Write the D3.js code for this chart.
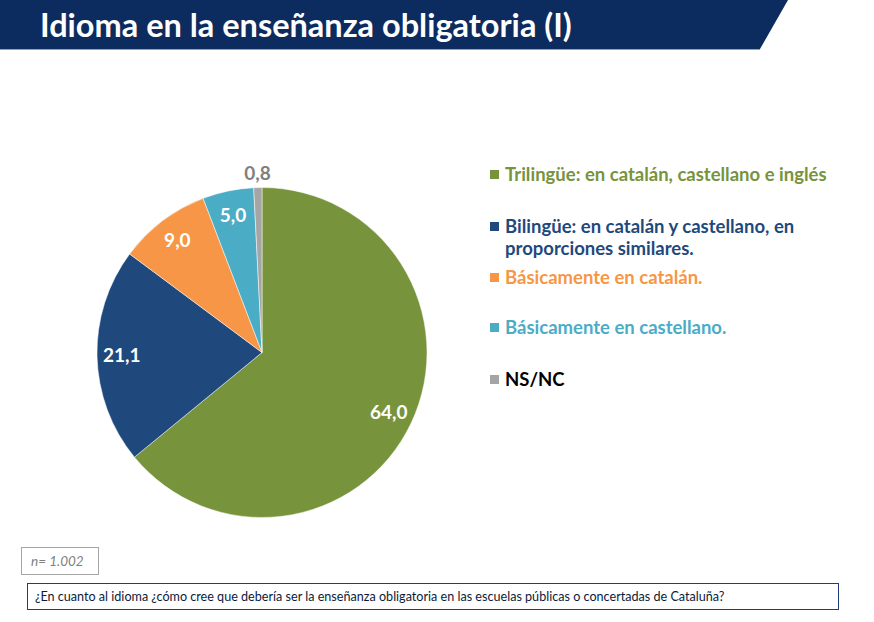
<!DOCTYPE html>
<html><head><meta charset="utf-8">
<script src="https://cdn.jsdelivr.net/npm/d3@7"></script>
<style>
body{margin:0;background:#fff;}
svg{display:block;font-family:Lato, "Open Sans", sans-serif;}
</style></head>
<body>
<svg id="c" width="874" height="622"></svg>
<script>
const categories = [
  "Trilingüe: en catalán, castellano e inglés",
  "Bilingüe: en catalán y castellano, en|proporciones similares.",
  "Básicamente en catalán.",
  "Básicamente en castellano.",
  "NS/NC"
];
const values = [64.0, 21.1, 9.0, 5.0, 0.8];
const labels = ["64,0", "21,1", "9,0", "5,0", "0,8"];
const colors = ["#77933c", "#1f497d", "#f79646", "#4bacc6", "#a5a5a5"];
const legendTextColors = ["#77933c", "#1f497d", "#f79646", "#4bacc6", "#000000"];
const title = "Idioma en la enseñanza obligatoria (I)";
const sampleNote = "n= 1.002";
const question = "¿En cuanto al idioma ¿cómo cree que debería ser la enseñanza obligatoria en las escuelas públicas o concertadas de Cataluña?";

const svg = d3.select("#c");

// Title banner
svg.append("path").attr("d","M0,0 L788,0 L760,49 L0,49 Z").attr("fill","#0c2c5f");
svg.append("line").attr("x1",0).attr("x2",760).attr("y1",49.5).attr("y2",49.5).attr("stroke","#8fa3c0").attr("stroke-width",1);
svg.append("text").attr("x",40).attr("y",37).attr("fill","#fff")
  .attr("font-size",32.5).attr("font-weight","bold").text(title);

// Pie
const cx = 262, cy = 352.5, R = 165;
const g = svg.append("g").attr("transform",`translate(${cx},${cy})`);
const pie = d3.pie().sort(null).value(d=>d);
const arcs = pie(values);
const arc = d3.arc().innerRadius(0).outerRadius(R);
g.selectAll("path.s").data(arcs).join("path").attr("class","s")
  .attr("d",arc).attr("fill",(d,i)=>colors[i]).attr("stroke","#fff").attr("stroke-width",0.5);

const inArc = d3.arc().innerRadius(R*0.85).outerRadius(R*0.85);
const outArc = d3.arc().innerRadius(R*1.085).outerRadius(R*1.085);
g.selectAll("text.l").data(arcs).join("text").attr("class","l")
  .attr("transform",(d,i)=>{
    const c = (d.value < 2 ? outArc : inArc).centroid(d);
    return `translate(${c[0]},${c[1]})`;
  })
  .attr("text-anchor","middle").attr("dy","0.35em")
  .attr("font-size",19).attr("font-weight","bold")
  .attr("fill",(d)=> d.value < 2 ? "#7f7f7f" : "#fff")
  .text((d,i)=>labels[i]);

// Legend
const legendY = [175, 227, 278, 328, 380];
const lg = svg.append("g");
categories.forEach((c,i)=>{
  const y = legendY[i];
  lg.append("rect").attr("x",490).attr("y",y-5).attr("width",9).attr("height",9).attr("fill",colors[i]);
  c.split("|").forEach((line,j)=>{
    lg.append("text").attr("x",505).attr("y",y+j*22).attr("dy","0.35em")
      .attr("font-size",18.5).attr("font-weight","bold").attr("fill",legendTextColors[i]).text(line);
  });
});

// n box
svg.append("rect").attr("x",21.5).attr("y",547.5).attr("width",77).attr("height",27)
  .attr("fill","#fff").attr("stroke","#a6a6a6");
svg.append("text").attr("x",31).attr("y",566).attr("font-size",13.5).attr("font-style","italic")
  .attr("fill","#7f7f7f").text(sampleNote);

// question box
svg.append("rect").attr("x",27.5).attr("y",583.5).attr("width",811).attr("height",26)
  .attr("fill","#fff").attr("stroke","#1f3d7a");
svg.append("text").attr("x",35).attr("y",601).attr("font-size",12.6)
  .attr("fill","#0d1b3a").text(question);
</script>
</body></html>
